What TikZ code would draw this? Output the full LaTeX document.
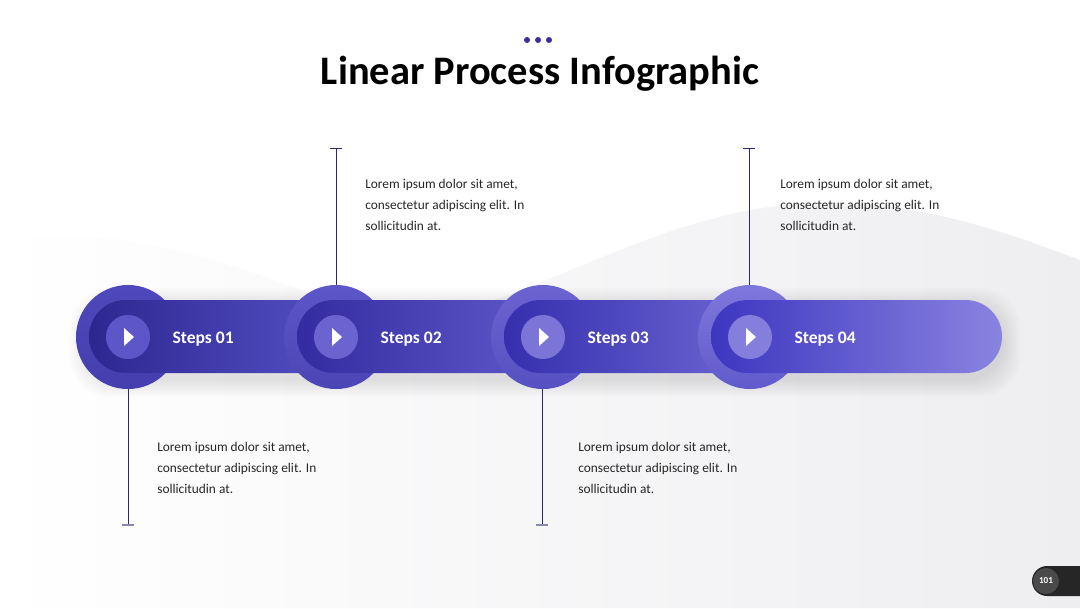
\documentclass[tikz,border=0pt]{standalone}
\usepackage{fontspec}
\setmainfont{Carlito}
\usepackage{xcolor}
\usetikzlibrary{positioning}

\definecolor{ink}{HTML}{2B2870}
\definecolor{dotblue}{HTML}{3A2E9C}
\definecolor{wavegray}{HTML}{EEEEF1}
\definecolor{badgedark}{HTML}{262626}
\definecolor{badgegray}{HTML}{4A4A4A}
% ring colours (top / bottom)
\definecolor{ringAt}{HTML}{4F48BC}\definecolor{ringAb}{HTML}{443EAE}
\definecolor{ringBt}{HTML}{5D56C8}\definecolor{ringBb}{HTML}{4C45B6}
\definecolor{ringCt}{HTML}{6A63D0}\definecolor{ringCb}{HTML}{5750C2}
\definecolor{ringDt}{HTML}{7E78DC}\definecolor{ringDb}{HTML}{615ACB}
% bar segments (left / right)
\definecolor{segAl}{HTML}{2C2790}\definecolor{segAr}{HTML}{5550C4}
\definecolor{segBl}{HTML}{322CA0}\definecolor{segBr}{HTML}{5E58CA}
\definecolor{segCl}{HTML}{352FAE}\definecolor{segCr}{HTML}{6B65D2}
\definecolor{segDl}{HTML}{3D36C0}\definecolor{segDr}{HTML}{8984E0}
% play buttons
\definecolor{playA}{HTML}{5D56C9}
\definecolor{playB}{HTML}{6A63D0}
\definecolor{playC}{HTML}{7B75D8}
\definecolor{playD}{HTML}{847EDD}

\begin{document}
\begin{tikzpicture}[
    x=0.025cm, y=-0.025cm,
    outer/.style={circle, minimum size=2.6cm, inner sep=0pt},
    play/.style={circle, minimum size=1.1cm, inner sep=0pt},
    steplabel/.style={font=\bfseries\fontsize{12.5}{15}\selectfont, text=white,
                      inner sep=0pt, yshift=-0.05cm},
    blurb/.style={font=\fontsize{9.5}{14.9}\selectfont, align=left, inner sep=0pt,
                  anchor=west, text=black!85},
    stem/.style={draw=ink, line width=0.7pt},
    tick/.style={draw=ink!55, line width=1pt},
    seg/.style={rounded corners=0.9125cm},
]
\useasboundingbox (0,0) rectangle (1080,608);
\fill[white] (0,0) rectangle (1080,608);

% background wave
\shade[left color=white, right color=wavegray]
    (0,608) -- (0,245) .. controls (60,228) and (150,232) .. (300,290)
    .. controls (380,318) and (440,315) .. (500,298)
    .. controls (600,262) and (700,205) .. (820,203)
    .. controls (920,202) and (1000,230) .. (1080,260)
    -- (1080,608) -- cycle;

% title
\fill[dotblue] (527,40) circle (0.075cm) (538,40) circle (0.075cm) (549,40) circle (0.075cm);
\node[font=\bfseries\fontsize{28.8}{34}\selectfont] (title) at (540,74) {Linear Process Infographic};

% soft shadow under the bar
\foreach \g in {2,4,...,18}
    \fill[black, opacity=0.011, rounded corners=1cm] (88-\g,306-\g) rectangle (1002+\g,379+\g);

% step 1
\node[outer, top color=ringAt, bottom color=ringAb] (o1) at (128,337) {};
\shade[seg, left color=segAl, right color=segAr] (89,300) rectangle (336,373);
% step 2
\node[outer, top color=ringBt, bottom color=ringBb] (o2) at (336,337) {};
\shade[seg, left color=segBl, right color=segBr] (297,300) rectangle (543,373);
% step 3
\node[outer, top color=ringCt, bottom color=ringCb] (o3) at (543,337) {};
\shade[seg, left color=segCl, right color=segCr] (504,300) rectangle (750,373);
% step 4
\node[outer, top color=ringDt, bottom color=ringDb] (o4) at (750,337) {};
\shade[seg, left color=segDl, right color=segDr] (711,300) rectangle (1002,373);

% play buttons
\node[play, fill=playA] (p1) at (128,337) {};
\node[play, fill=playB] (p2) at (336,337) {};
\node[play, fill=playC] (p3) at (543,337) {};
\node[play, fill=playD] (p4) at (750,337) {};
\fill[white] (p1.center) ++(-4,-9) -- ++(0,18) -- ++(10,-9) -- cycle;
\fill[white] (p2.center) ++(-4,-9) -- ++(0,18) -- ++(10,-9) -- cycle;
\fill[white] (p3.center) ++(-4,-9) -- ++(0,18) -- ++(10,-9) -- cycle;
\fill[white] (p4.center) ++(-4,-9) -- ++(0,18) -- ++(10,-9) -- cycle;

\node[steplabel, right=0.55cm of p1] (l1) {Steps 01};
\node[steplabel, right=0.55cm of p2] (l2) {Steps 02};
\node[steplabel, right=0.55cm of p3] (l3) {Steps 03};
\node[steplabel, right=0.55cm of p4] (l4) {Steps 04};

% stems
\coordinate (k1) at (128,525);
\coordinate (k2) at (336,148);
\coordinate (k3) at (542,525);
\coordinate (k4) at (749,148);
\draw[stem] (o1.south) -- (k1);
\draw[stem] (o2.north) -- (k2);
\draw[stem] ([xshift=-0.025cm]o3.south) -- (k3);
\draw[stem] ([xshift=-0.025cm]o4.north) -- (k4);
\draw[tick] ([xshift=-0.15cm]k1) -- ([xshift=0.15cm]k1);
\draw[stem] ([xshift=-0.15cm]k2) -- ([xshift=0.15cm]k2);
\draw[tick] ([xshift=-0.15cm]k3) -- ([xshift=0.15cm]k3);
\draw[stem] ([xshift=-0.15cm]k4) -- ([xshift=0.15cm]k4);

% descriptions
\node[blurb] (t1) at (157,468) {Lorem ipsum dolor sit amet,\\consectetur adipiscing elit. In\\sollicitudin at.};
\node[blurb] (t2) at (365,205) {Lorem ipsum dolor sit amet,\\consectetur adipiscing elit. In\\sollicitudin at.};
\node[blurb] (t3) at (578,468) {Lorem ipsum dolor sit amet,\\consectetur adipiscing elit. In\\sollicitudin at.};
\node[blurb] (t4) at (780,205) {Lorem ipsum dolor sit amet,\\consectetur adipiscing elit. In\\sollicitudin at.};

% page number
\fill[badgedark, rounded corners=0.375cm] (1032,566) rectangle (1110,596);
\node[circle, fill=badgegray, minimum size=0.65cm, inner sep=0pt, text=white,
      font=\bfseries\fontsize{6.5}{8}\selectfont] (pg) at (1046,581) {101};
\end{tikzpicture}
\end{document}
